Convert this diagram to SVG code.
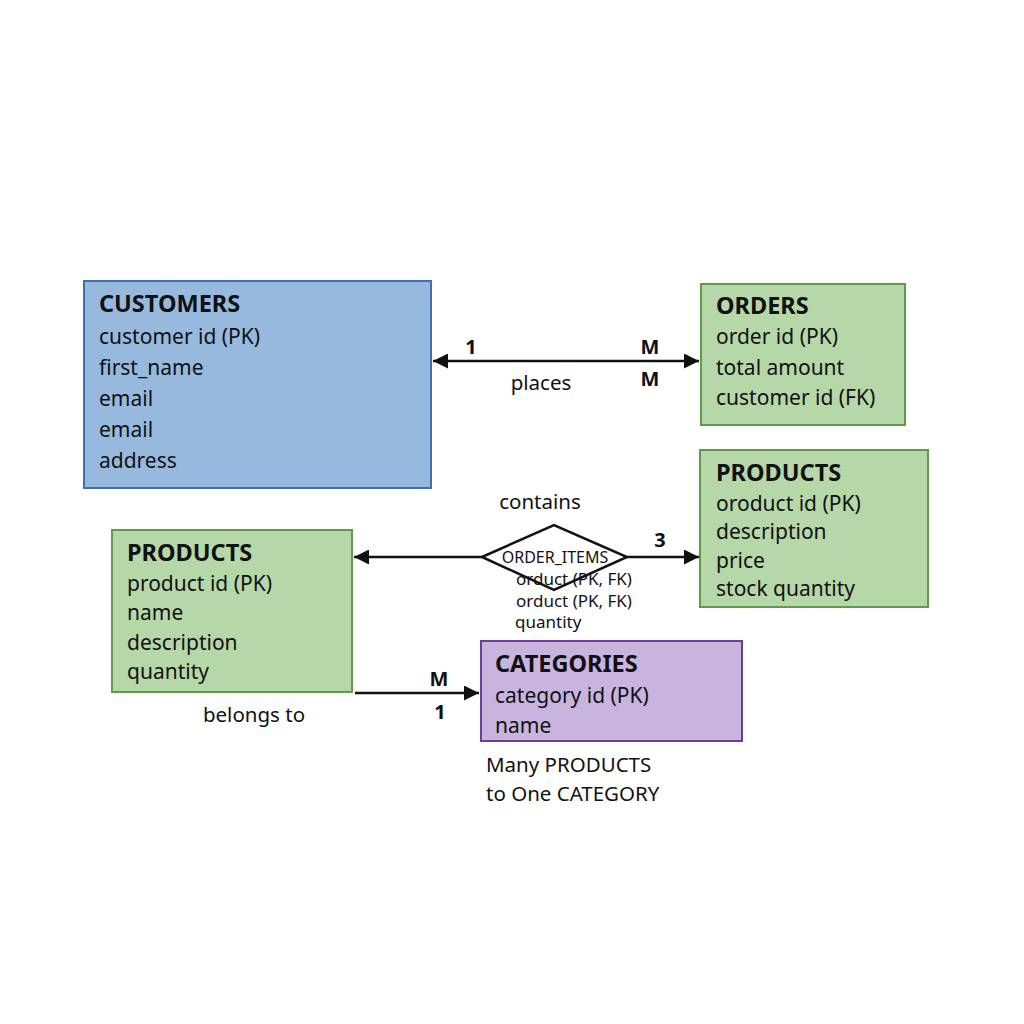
<svg xmlns="http://www.w3.org/2000/svg" width="1024" height="1024" viewBox="0 0 1024 1024">
<defs>
<style>
text{font-family:"Noto Sans","Open Sans",sans-serif;fill:#111;}
.t{font-size:23.5px;font-weight:bold;}
.r{font-size:21px;}
.c{font-size:20px;font-weight:bold;}
.l{font-size:20.5px;}
.s{font-size:17px;}
.o{font-size:16px;}
.blue{fill:#98b9de;stroke:#416fae;stroke-width:2;}
.green{fill:#b6d7a8;stroke:#5f9a4d;stroke-width:2;}
.purple{fill:#c8b4de;stroke:#6a3f97;stroke-width:2;}
.line{stroke:#111;stroke-width:2.5;fill:none;}
</style>
<marker id="ah" viewBox="0 0 10 10" refX="10" refY="5" markerWidth="6" markerHeight="6" orient="auto-start-reverse" markerUnits="strokeWidth">
<path d="M0,0 L10,5 L0,10 z" fill="#111"/>
</marker>
</defs>
<rect width="1024" height="1024" fill="#fff"/>
<g id="customers">
<rect class="blue" x="84" y="281" width="347" height="207"/>
<text class="t" x="99" y="312">CUSTOMERS</text>
<text class="r" x="99" y="344">customer id (PK)</text>
<text class="r" x="99" y="375">first_name</text>
<text class="r" x="99" y="406">email</text>
<text class="r" x="99" y="437">email</text>
<text class="r" x="99" y="468">address</text>
</g>
<g id="orders">
<rect class="green" x="701" y="284" width="204" height="141"/>
<text class="t" x="716" y="314">ORDERS</text>
<text class="r" x="716" y="344">order id (PK)</text>
<text class="r" x="716" y="375">total amount</text>
<text class="r" x="716" y="405">customer id (FK)</text>
</g>
<g id="products-right">
<rect class="green" x="700" y="450" width="228" height="157"/>
<text class="t" x="716" y="481">PRODUCTS</text>
<text class="r" x="716" y="511">oroduct id (PK)</text>
<text class="r" x="716" y="539">description</text>
<text class="r" x="716" y="568">price</text>
<text class="r" x="716" y="596">stock quantity</text>
</g>
<g id="products-left">
<rect class="green" x="112" y="530" width="240" height="162"/>
<text class="t" x="127" y="561">PRODUCTS</text>
<text class="r" x="127" y="591">product id (PK)</text>
<text class="r" x="127" y="620">name</text>
<text class="r" x="127" y="650">description</text>
<text class="r" x="127" y="679">quantity</text>
</g>
<g id="categories">
<rect class="purple" x="481" y="641" width="261" height="100"/>
<text class="t" x="495" y="672">CATEGORIES</text>
<text class="r" x="495" y="703">category id (PK)</text>
<text class="r" x="495" y="733">name</text>
</g>
<g id="order-items">
<polygon points="482,557 554,525 627,557 554,590" fill="#fff" stroke="#111" stroke-width="2.5"/>
<text class="o" x="555" y="563" text-anchor="middle">ORDER_ITEMS</text>
<text class="s" x="516" y="585">orduct (PK, FK)</text>
<text class="s" x="516" y="607">orduct (PK, FK)</text>
<text class="s" x="515" y="628">quantity</text>
</g>
<g id="connectors">
<line class="line" x1="433" y1="361" x2="699" y2="361" marker-start="url(#ah)" marker-end="url(#ah)"/>
<line class="line" x1="354" y1="557" x2="482" y2="557" marker-start="url(#ah)"/>
<line class="line" x1="627" y1="557" x2="699" y2="557" marker-end="url(#ah)"/>
<line class="line" x1="355" y1="693" x2="479" y2="693" marker-end="url(#ah)"/>
<text class="c" x="471" y="354" text-anchor="middle">1</text>
<text class="c" x="650" y="354" text-anchor="middle">M</text>
<text class="c" x="650" y="386" text-anchor="middle">M</text>
<text class="l" x="541" y="390" text-anchor="middle">places</text>
<text class="l" x="540" y="509" text-anchor="middle">contains</text>
<text class="c" x="660" y="547" text-anchor="middle">3</text>
<text class="c" x="439" y="686" text-anchor="middle">M</text>
<text class="c" x="440" y="719" text-anchor="middle">1</text>
<text class="l" x="254" y="722" text-anchor="middle">belongs to</text>
<text class="l" x="486" y="772">Many PRODUCTS</text>
<text class="l" x="486" y="801">to One CATEGORY</text>
</g>
</svg>
